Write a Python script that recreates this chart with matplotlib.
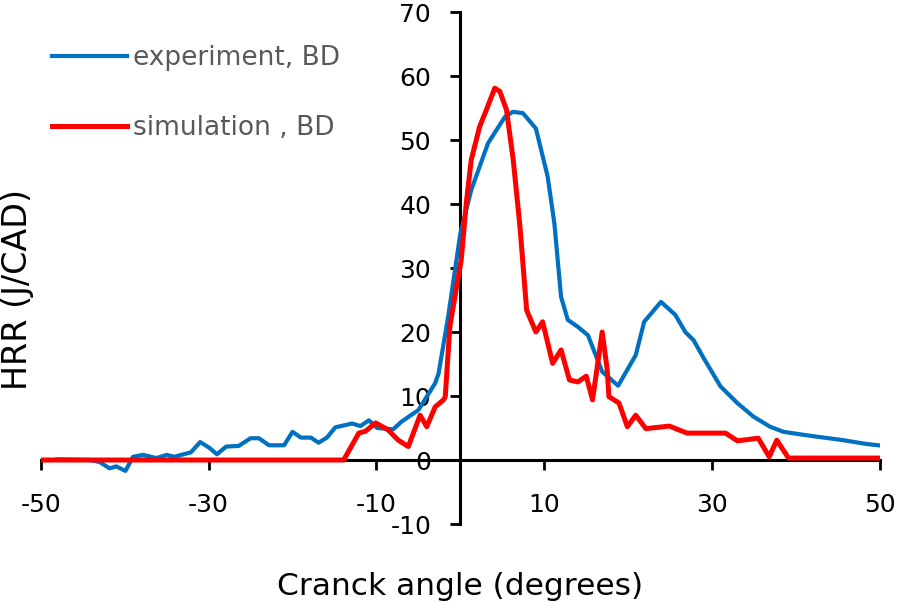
import matplotlib
matplotlib.use("Agg")
import matplotlib.pyplot as plt

# Experiment, BD (blue)
exp_x = [-48.0, -44.2, -43.0, -41.8, -41.0, -39.9, -39.0, -37.8, -36.2, -35.0, -34.1, -32.1,
         -31.0, -29.9, -29.0, -27.9, -26.4, -25.0, -24.0, -22.8, -21.0, -20.0, -19.0, -17.8,
         -16.9, -15.9, -14.9, -12.9, -11.9, -10.9, -9.9, -8.0, -7.0, -5.0, -3.0, -2.6,
         -1.45, 0.0, 1.3, 3.3, 5.3, 6.25, 7.45, 9.0, 10.4, 11.2, 12.0, 12.8, 14.0, 15.2,
         16.9, 18.8, 20.9, 21.9, 23.9, 25.6, 26.8, 27.8, 29.0, 31.0, 33.0, 34.9, 36.9,
         38.5, 41.6, 45.6, 48.4, 49.8]
exp_y = [0.1, 0.0, -0.3, -1.3, -1.0, -1.7, 0.5, 0.8, 0.3, 0.8, 0.5, 1.2,
         2.8, 1.9, 0.9, 2.1, 2.2, 3.4, 3.4, 2.3, 2.3, 4.4, 3.5, 3.5,
         2.7, 3.5, 5.1, 5.7, 5.3, 6.2, 5.0, 4.8, 6.0, 7.8, 12.0, 13.5,
         22.4, 35.4, 42.2, 49.5, 53.6, 54.4, 54.2, 51.8, 44.3, 37.0, 25.5, 21.9, 20.8, 19.5,
         13.8, 11.6, 16.4, 21.6, 24.7, 22.7, 20.0, 18.7, 15.9, 11.5, 8.9, 6.8, 5.2,
         4.4, 3.8, 3.1, 2.5, 2.3]

# Simulation, BD (red)
sim_x = [-50.0, -13.9, -12.1, -11.3, -10.1, -8.6, -7.4, -6.2, -4.8, -4.0, -3.0, -2.0,
         -1.8, -1.25, -0.45, 0.1, 0.7, 1.3, 2.3, 3.1, 4.1, 4.7, 5.5, 6.3, 7.1, 7.9,
         9.0, 9.8, 11.0, 12.0, 13.0, 14.0, 15.0, 15.75, 16.9, 17.5, 17.7, 18.9, 19.9,
         20.9, 22.1, 24.9, 27.0, 31.6, 33.0, 35.5, 36.8, 37.7, 39.1, 49.8]
sim_y = [0.0, 0.0, 4.2, 4.5, 5.8, 4.7, 3.1, 2.1, 7.0, 5.2, 8.3, 9.4,
         9.9, 20.8, 27.1, 31.2, 40.1, 46.9, 52.1, 54.7, 58.1, 57.6, 54.7, 46.9, 36.5, 23.4,
         20.0, 21.6, 15.1, 17.2, 12.5, 12.2, 13.1, 9.4, 20.0, 14.1, 9.9, 8.9, 5.2,
         7.0, 4.9, 5.3, 4.2, 4.2, 3.0, 3.4, 0.5, 3.1, 0.3, 0.3]

x_ticks = [-50, -30, -10, 10, 30, 50]
y_ticks = [-10, 0, 10, 20, 30, 40, 50, 60, 70]

plt.rcParams['font.family'] = ['DejaVu Sans']
plt.rcParams['axes.unicode_minus'] = False

fig = plt.figure(figsize=(8.98, 6.03), dpi=100)
ax = fig.add_axes([40.7 / 898, 1 - 524 / 603, (880 - 40.7) / 898, (524 - 12) / 603])

ax.plot(exp_x, exp_y, color='#0070C0', lw=3.0, label='experiment, BD', zorder=3,
        solid_joinstyle='round')
ax.plot(sim_x, sim_y, color='#FF0000', lw=3.6, label='simulation , BD', zorder=4,
        solid_joinstyle='round')

ax.set_xlim(-50, 50)
ax.set_ylim(-10, 70)
ax.spines['left'].set_position(('data', 0))
ax.spines['bottom'].set_position(('data', 0))
ax.spines['top'].set_visible(False)
ax.spines['right'].set_visible(False)
for s in ('left', 'bottom'):
    ax.spines[s].set_linewidth(2.2)
    ax.spines[s].set_color('black')
    ax.spines[s].set_zorder(2)

ax.set_xticks(x_ticks)
ax.set_yticks(y_ticks)
ax.tick_params(axis='x', direction='out', length=7, width=2, pad=17, labelsize=18)
ax.tick_params(axis='y', direction='out', length=7, width=2, pad=14, labelsize=18)

leg = ax.legend(loc='upper left', bbox_to_anchor=(0.0135, 0.936), frameon=False,
                fontsize=19, handlelength=2.84, handletextpad=0.23, labelspacing=1.67,
                labelcolor='#595959', borderaxespad=0.0, borderpad=0.0)

fig.text(27 / 898, 1 - 290 / 603, 'HRR (J/CAD)', rotation=90, rotation_mode='anchor',
         ha='center', va='baseline', fontsize=24)
fig.text(460 / 898, 1 - 595 / 603, 'Cranck angle (degrees)', ha='center', va='baseline',
         fontsize=22.5)

fig.savefig('out.png', dpi=100)
